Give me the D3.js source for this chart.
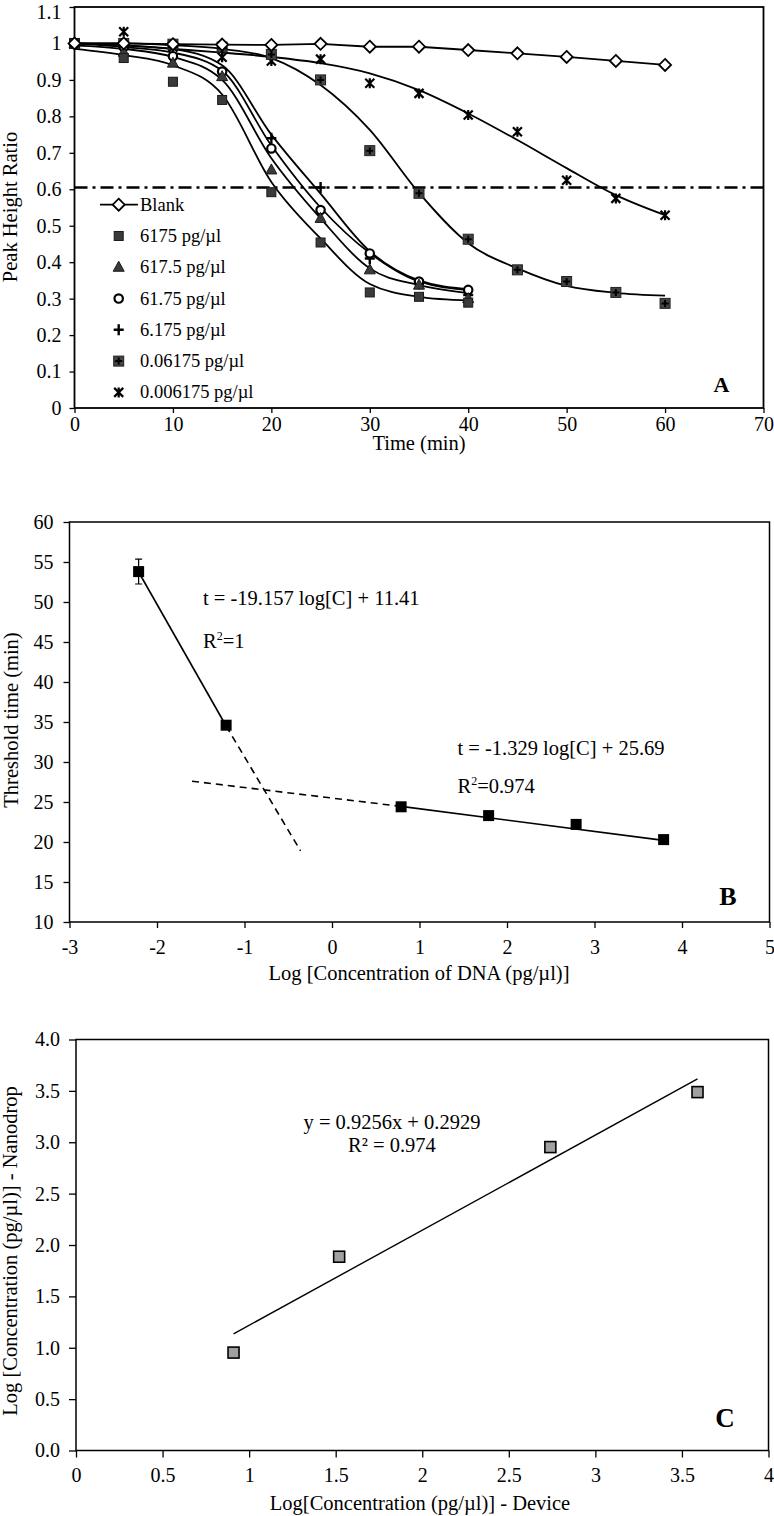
<!DOCTYPE html>
<html><head><meta charset="utf-8">
<script src="https://cdn.jsdelivr.net/npm/d3@7"></script>
<style>
body{margin:0;background:#fff}
svg text{font-family:"Liberation Serif","Times New Roman",serif;fill:#000}
</style>
</head><body>
<svg id="c" width="774" height="1516"></svg>
<script>
// ---------- Panel A data ----------
const timeA = [0,5,10,15,20,25,30,35,40,45,50,55,60];
const timeA40 = [0,5,10,15,20,25,30,35,40];
const blankA   = [1.0,1.0,0.998,0.997,0.996,0.999,0.991,0.991,0.982,0.973,0.963,0.952,0.941];
const c6175    = [1.0,0.96,0.895,0.845,0.592,0.454,0.317,0.305,0.289];
const c617_5   = [1.0,0.976,0.946,0.909,0.653,0.52,0.379,0.337,0.30];
const c61_75   = [1.0,0.99,0.965,0.923,0.712,0.543,0.424,0.347,0.324];
const c6_175   = [1.0,1.0,0.99,0.987,0.74,0.605,0.41,0.34,0.31];
const c0_06175 = [1.0,1.0,0.998,0.99,0.97,0.90,0.706,0.589,0.463,0.379,0.347,0.317,0.287];
const c0_006175= [1.0,1.032,0.99,0.962,0.952,0.957,0.891,0.863,0.804,0.758,0.625,0.575,0.529];
// fitted curves
const fit6175    = [0.985,0.968,0.94,0.86,0.62,0.465,0.34,0.305,0.295];
const fit617_5   = [0.995,0.985,0.963,0.90,0.685,0.52,0.383,0.337,0.315];
const fit61_75   = [1.0,0.99,0.975,0.925,0.72,0.55,0.425,0.347,0.324];
const fit6_175   = [1.0,0.995,0.985,0.94,0.75,0.588,0.43,0.35,0.326];
const fit0_06175 = [1.0,1.0,0.995,0.985,0.96,0.886,0.763,0.59,0.452,0.383,0.335,0.316,0.308];
const fit0_006175= [1.0,0.995,0.985,0.975,0.963,0.946,0.918,0.872,0.808,0.735,0.658,0.584,0.529];
const thresholdA = 0.605;
const legendA = ["Blank","6175 pg/µl","617.5 pg/µl","61.75 pg/µl","6.175 pg/µl","0.06175 pg/µl","0.006175 pg/µl"];
const xTicksA = [0,10,20,30,40,50,60,70];
const yTicksA = [0,0.1,0.2,0.3,0.4,0.5,0.6,0.7,0.8,0.9,1,1.1];
const yTickLabelsA = ["0","0.1","0.2","0.3","0.4","0.5","0.6","0.7","0.8","0.9","1","1.1"];

// ---------- Panel B data ----------
const logC = [-2.21,-1.21,0.79,1.79,2.79,3.79];
const thrTime = [53.8,34.6,24.4,23.3,22.2,20.3];
const thrErr = [1.55,0,0,0,0,0];
const fitB1Solid = [[-2.21,53.75],[-1.21,34.5]];
const fitB1Dash  = [[-1.21,34.5],[-0.36,18.9]];
const fitB2Dash  = [[-1.6,27.6],[0.79,24.45]];
const fitB2Solid = [[0.79,24.45],[3.79,20.2]];
const xTicksB = [-3,-2,-1,0,1,2,3,4,5];
const yTicksB = [10,15,20,25,30,35,40,45,50,55,60];

// ---------- Panel C data ----------
const devX = [0.91,1.52,2.74,3.59];
const nanoY = [0.953,1.886,2.953,3.488];
const fitC = [[0.91,1.135],[3.59,3.616]];
const xTicksC = [0,0.5,1,1.5,2,2.5,3,3.5,4];
const yTicksC = [0,0.5,1,1.5,2,2.5,3,3.5,4];

const svg = d3.select("#c");
const FS = 20;     // tick labels
const TS = 20.5;   // axis titles
const ES = 20.5;   // equations

function marker(g, type, x, y){
  const m = g.append("g").attr("transform",`translate(${x},${y})`);
  if(type==="diamond") m.append("path").attr("d","M0,-6L6,0L0,6L-6,0Z").attr("fill","#fff").attr("stroke","#000").attr("stroke-width",1.8);
  else if(type==="square") m.append("rect").attr("x",-4.5).attr("y",-4.5).attr("width",9).attr("height",9).attr("fill","#3a3a3a").attr("stroke","#1a1a1a").attr("stroke-width",1);
  else if(type==="triangle") m.append("path").attr("d","M0,-6L5.5,4L-5.5,4Z").attr("fill","#3a3a3a").attr("stroke","#1a1a1a").attr("stroke-width",1);
  else if(type==="circle") m.append("circle").attr("r",4.2).attr("fill","#fff").attr("stroke","#000").attr("stroke-width",2.2);
  else if(type==="plus") m.append("path").attr("d","M-5,0H5M0,-5.5V5.5").attr("stroke","#000").attr("stroke-width",2.4);
  else if(type==="sqplus"){
    m.append("rect").attr("x",-5).attr("y",-5).attr("width",10).attr("height",10).attr("fill","#444").attr("stroke","#222").attr("stroke-width",1);
    m.append("path").attr("d","M-3.5,0H3.5M0,-3.5V3.5").attr("stroke","#000").attr("stroke-width",2);
  }
  else if(type==="star") m.append("path").attr("d","M-4.5,-4.5L4.5,4.5M-4.5,4.5L4.5,-4.5M0,-5V5").attr("stroke","#000").attr("stroke-width",2.2);
  else if(type==="bsquare") m.append("rect").attr("x",-5.5).attr("y",-5.5).attr("width",11).attr("height",11).attr("fill","#000");
  else if(type==="gsquare") m.append("rect").attr("x",-5.5).attr("y",-5.5).attr("width",11).attr("height",11).attr("fill","#a0a0a0").attr("stroke","#000").attr("stroke-width",1.6);
}

function styleAxis(g){
  g.select(".domain").remove();
  g.selectAll(".tick line").attr("stroke","#000").attr("stroke-width",1.3);
  g.selectAll(".tick text").attr("font-size",FS).attr("font-family","Liberation Serif");
}
const plain = d => String(d);

// =================== PANEL A ===================
const xA = d3.scaleLinear().domain([0,70]).range([74.5,763.5]);
const yA = d3.scaleLinear().domain([0,1.1]).range([408,7]);
const gA = svg.append("g");
gA.append("g").attr("transform","translate(0,408)")
  .call(d3.axisBottom(xA).tickValues(xTicksA).tickSize(5).tickPadding(4).tickFormat(plain)).call(styleAxis);
const yAxA = gA.append("g").attr("transform","translate(74.5,0)")
  .call(d3.axisLeft(yA).tickValues(yTicksA).tickSize(5).tickPadding(8).tickFormat((d,i)=>yTickLabelsA[i])).call(styleAxis);
// keep the top label inside the page
yAxA.selectAll(".tick text").filter(d=>d===1.1).attr("dy","0.55em");
gA.append("rect").attr("x",74.5).attr("y",7).attr("width",689).attr("height",401).attr("fill","none").attr("stroke","#000").attr("stroke-width",1.8);

// threshold
gA.append("line").attr("x1",xA(0)).attr("x2",xA(70)).attr("y1",yA(thresholdA)).attr("y2",yA(thresholdA))
  .attr("stroke","#000").attr("stroke-width",2.4).attr("stroke-dasharray","13,5,3,5");

const lineSmooth = d3.line().x(d=>xA(d[0])).y(d=>yA(d[1])).curve(d3.curveMonotoneX);
const lineLin = d3.line().x(d=>xA(d[0])).y(d=>yA(d[1]));
const fits = [[timeA40,fit6175],[timeA40,fit617_5],[timeA40,fit61_75],[timeA40,fit6_175],[timeA,fit0_06175],[timeA,fit0_006175]];
fits.forEach(([t,v])=>{
  gA.append("path").attr("d",lineSmooth(t.map((x,i)=>[x,v[i]]))).attr("fill","none").attr("stroke","#000").attr("stroke-width",1.8);
});
gA.append("path").attr("d",lineLin(timeA.map((x,i)=>[x,blankA[i]]))).attr("fill","none").attr("stroke","#000").attr("stroke-width",1.8);

const seriesA = [
  [timeA,c0_006175,"star"],[timeA,c0_06175,"sqplus"],[timeA40,c6_175,"plus"],
  [timeA40,c61_75,"circle"],[timeA40,c617_5,"triangle"],[timeA40,c6175,"square"],[timeA,blankA,"diamond"]
];
seriesA.forEach(([t,v,type])=>{
  t.forEach((x,i)=>marker(gA,type,xA(x),yA(v[i])));
});

// legend
const legTypes = ["diamond","square","triangle","circle","plus","sqplus","star"];
legendA.forEach((name,i)=>{
  const yb = 210.7 + i*31.28;
  if(i===0) gA.append("line").attr("x1",100).attr("x2",138).attr("y1",yb-6).attr("y2",yb-6).attr("stroke","#000").attr("stroke-width",1.8);
  marker(gA, legTypes[i], 118.7, yb-6);
  gA.append("text").attr("x",140).attr("y",yb).attr("font-size",18.5).text(name);
});
gA.append("text").attr("x",721.5).attr("y",391.5).attr("text-anchor","middle").attr("font-size",22).attr("font-weight","bold").text("A");
gA.append("text").attr("x",419).attr("y",450).attr("text-anchor","middle").attr("font-size",TS).text("Time (min)");
gA.append("text").attr("transform","translate(17,207) rotate(-90)").attr("text-anchor","middle").attr("font-size",TS).text("Peak Height Ratio");

// =================== PANEL B ===================
const xB = d3.scaleLinear().domain([-3,5]).range([69.5,769.5]);
const yB = d3.scaleLinear().domain([10,60]).range([922,522]);
const gB = svg.append("g");
gB.append("g").attr("transform","translate(0,922)")
  .call(d3.axisBottom(xB).tickValues(xTicksB).tickSize(6).tickPadding(12).tickFormat(plain)).call(styleAxis);
gB.append("g").attr("transform","translate(69.5,0)")
  .call(d3.axisLeft(yB).tickValues(yTicksB).tickSize(6).tickPadding(10).tickFormat(plain)).call(styleAxis);
gB.append("rect").attr("x",69.5).attr("y",522).attr("width",700).attr("height",400).attr("fill","none").attr("stroke","#000").attr("stroke-width",1.5);
const lineB = d3.line().x(d=>xB(d[0])).y(d=>yB(d[1]));
[[fitB1Solid,null],[fitB1Dash,"7,5"],[fitB2Dash,"7,5"],[fitB2Solid,null]].forEach(([seg,dash])=>{
  gB.append("path").attr("d",lineB(seg)).attr("fill","none").attr("stroke","#000").attr("stroke-width",1.6).attr("stroke-dasharray",dash);
});
logC.forEach((x,i)=>{
  if(thrErr[i]>0){
    const cx=xB(x), y1=yB(thrTime[i]-thrErr[i]), y2=yB(thrTime[i]+thrErr[i]);
    gB.append("path").attr("d",`M${cx},${y1}V${y2}M${cx-3.5},${y1}H${cx+3.5}M${cx-3.5},${y2}H${cx+3.5}`).attr("stroke","#000").attr("stroke-width",1.2).attr("fill","none");
  }
  marker(gB,"bsquare",xB(x),yB(thrTime[i]));
});
gB.append("text").attr("x",203).attr("y",605).attr("font-size",ES).text("t = -19.157 log[C] + 11.41");
const r1 = gB.append("text").attr("x",203).attr("y",648).attr("font-size",ES);
r1.append("tspan").text("R"); r1.append("tspan").attr("font-size",12).attr("dy",-8).text("2"); r1.append("tspan").attr("dy",8).text("=1");
gB.append("text").attr("x",457.5).attr("y",755).attr("font-size",ES).text("t = -1.329 log[C] + 25.69");
const r2 = gB.append("text").attr("x",457.5).attr("y",793).attr("font-size",ES);
r2.append("tspan").text("R"); r2.append("tspan").attr("font-size",12).attr("dy",-8).text("2"); r2.append("tspan").attr("dy",8).text("=0.974");
gB.append("text").attr("x",728).attr("y",905).attr("text-anchor","middle").attr("font-size",26).attr("font-weight","bold").text("B");
gB.append("text").attr("x",419).attr("y",980).attr("text-anchor","middle").attr("font-size",TS).text("Log [Concentration of DNA (pg/µl)]");
gB.append("text").attr("transform","translate(18,720) rotate(-90)").attr("text-anchor","middle").attr("font-size",TS).text("Threshold time (min)");

// =================== PANEL C ===================
const xC = d3.scaleLinear().domain([0,4]).range([76,768.5]);
const yC = d3.scaleLinear().domain([0,4]).range([1450.5,1039.5]);
const gC = svg.append("g");
gC.append("g").attr("transform","translate(0,1450.5)")
  .call(d3.axisBottom(xC).tickValues(xTicksC).tickSize(7).tickPadding(10).tickFormat(plain)).call(styleAxis);
gC.append("g").attr("transform","translate(76,0)")
  .call(d3.axisLeft(yC).tickValues(yTicksC).tickSize(7).tickPadding(9).tickFormat(d3.format(".1f"))).call(styleAxis);
gC.append("rect").attr("x",76).attr("y",1039.5).attr("width",692.5).attr("height",411).attr("fill","none").attr("stroke","#000").attr("stroke-width",1.5);
gC.append("path").attr("d",d3.line().x(d=>xC(d[0])).y(d=>yC(d[1]))(fitC)).attr("stroke","#000").attr("stroke-width",1.4).attr("fill","none");
devX.forEach((x,i)=>marker(gC,"gsquare",xC(x),yC(nanoY[i])));
gC.append("text").attr("x",392).attr("y",1129).attr("text-anchor","middle").attr("font-size",ES).text("y = 0.9256x + 0.2929");
gC.append("text").attr("x",392).attr("y",1152).attr("text-anchor","middle").attr("font-size",ES).text("R² = 0.974");
gC.append("text").attr("x",725).attr("y",1426.5).attr("text-anchor","middle").attr("font-size",27).attr("font-weight","bold").text("C");
gC.append("text").attr("x",420).attr("y",1510).attr("text-anchor","middle").attr("font-size",TS).text("Log[Concentration (pg/µl)] - Device");
gC.append("text").attr("transform","translate(17,1251) rotate(-90)").attr("text-anchor","middle").attr("font-size",TS).text("Log [Concentration (pg/µl)]  -  Nanodrop");
</script>
</body></html>
